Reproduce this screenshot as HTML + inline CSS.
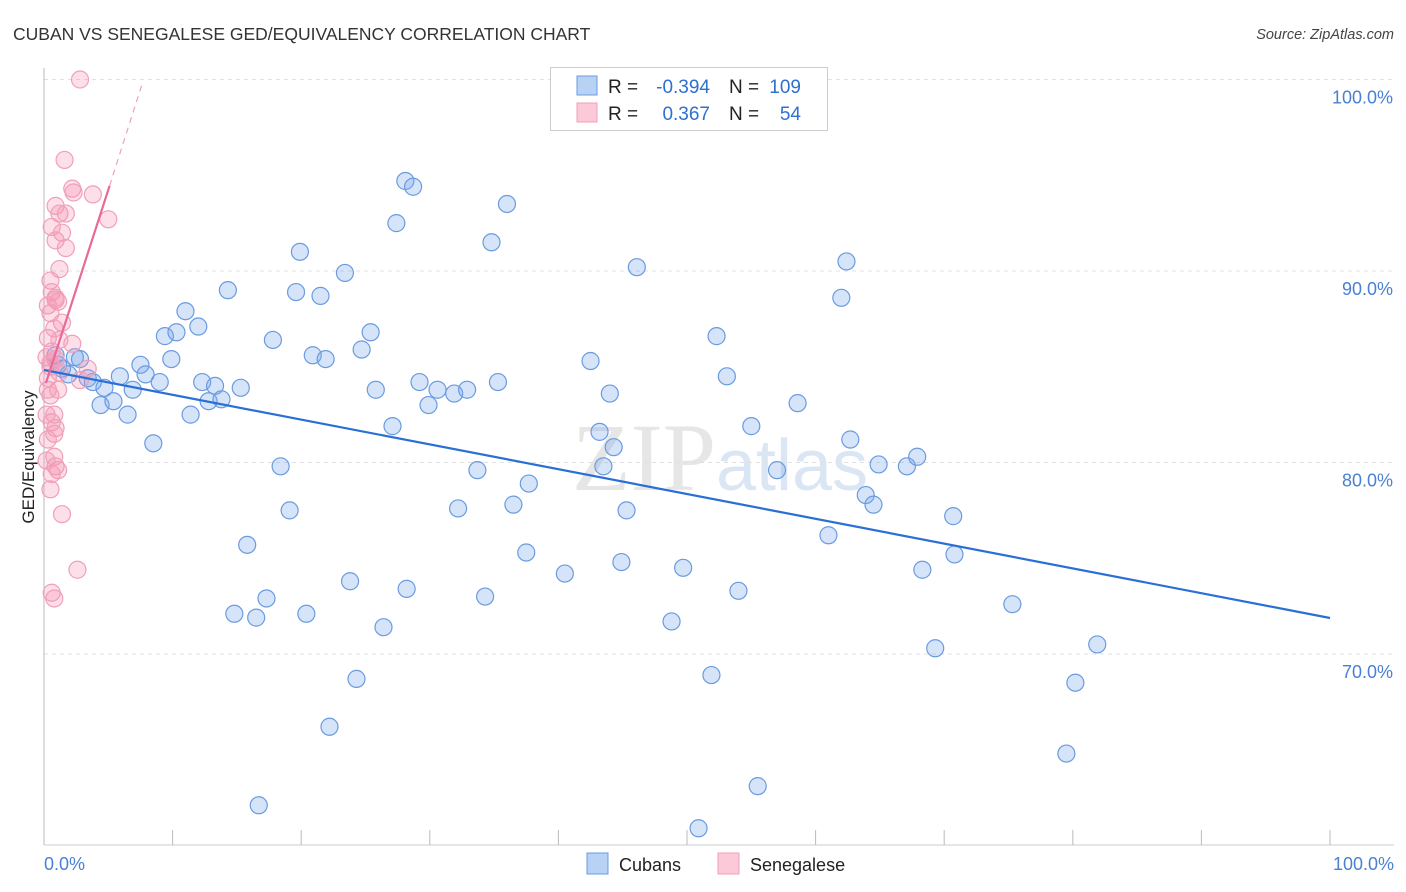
<!DOCTYPE html>
<html><head><meta charset="utf-8"><style>
body{margin:0;background:#fff;font-family:"Liberation Sans",sans-serif}
svg{display:block}
</style></head><body>
<svg id="chart" width="1406" height="892" xmlns="http://www.w3.org/2000/svg">
<text x="13" y="40" font-size="17.5" fill="#333" font-family="Liberation Sans, sans-serif">CUBAN VS SENEGALESE GED/EQUIVALENCY CORRELATION CHART</text>
<text x="1394" y="39" font-size="14.5" fill="#444" font-style="italic" text-anchor="end">Source: ZipAtlas.com</text>
<text x="720" y="490" font-size="96" fill="#e6e6e6" text-anchor="middle" font-family="Liberation Serif, serif">ZIP<tspan fill="#dbe6f5" font-family="Liberation Sans, sans-serif" font-size="72">atlas</tspan></text>
<g id="grid"></g>
<g id="axes"></g>
<g id="points"></g>
<g id="trends"></g>
<text transform="translate(34,457) rotate(-90)" font-size="17" fill="#222" text-anchor="middle">GED/Equivalency</text>
<text x="44" y="870" font-size="18" fill="#4a80d4">0.0%</text>
<text x="1394" y="870" font-size="18" fill="#4a80d4" text-anchor="end">100.0%</text>
<g font-size="19">
<rect x="550.5" y="67.5" width="277" height="63" fill="#fff" stroke="#ccc"/>
<rect x="577" y="76" width="20" height="19" fill="#b8d2f5" stroke="#6a9be0"/>
<rect x="577" y="103" width="20" height="19" fill="#fbc9d7" stroke="#f0a0b8"/>
<text x="608" y="93" fill="#222">R =</text>
<text x="710" y="93" fill="#2e6fd0" text-anchor="end">-0.394</text>
<text x="729" y="93" fill="#222">N =</text>
<text x="801" y="93" fill="#2e6fd0" text-anchor="end">109</text>
<text x="608" y="120" fill="#222">R =</text>
<text x="710" y="120" fill="#2e6fd0" text-anchor="end">0.367</text>
<text x="729" y="120" fill="#222">N =</text>
<text x="801" y="120" fill="#2e6fd0" text-anchor="end">54</text>
</g>
<g>
<rect x="587" y="853" width="21" height="21" fill="#b8d2f5" stroke="#6a9be0"/>
<text x="619" y="871" font-size="18" fill="#222">Cubans</text>
<rect x="718" y="853" width="21" height="21" fill="#fbc9d7" stroke="#f0a0b8"/>
<text x="750" y="871" font-size="18" fill="#222">Senegalese</text>
</g>
</svg>
<script>
const yTicks=[70,80,90,100];
const yTickLabels=["70.0%","80.0%","90.0%","100.0%"];
const xTicks=[10,20,30,40,50,60,70,80,90,100];
const cubanX=[0.9,1.1,1.4,2.4,2.8,1.9,3.4,3.8,4.4,4.7,5.4,5.9,6.5,6.9,7.5,7.9,8.5,9.0,9.4,9.9,10.3,11.0,11.4,12.0,12.3,12.8,13.3,13.8,14.3,15.3,15.8,14.8,16.5,17.3,17.8,18.4,19.1,19.6,19.9,20.4,20.9,21.5,21.9,22.2,23.4,23.8,24.3,24.7,25.4,25.8,26.4,27.1,27.4,28.1,28.2,28.7,29.2,29.9,30.6,31.9,32.2,32.9,33.7,34.3,34.8,35.3,36.0,36.5,37.5,37.7,40.5,42.5,43.2,43.5,44.0,44.3,44.9,45.3,46.1,48.8,49.7,50.9,51.9,52.3,53.1,54.0,55.0,57.0,58.6,61.0,62.0,62.4,62.7,63.9,64.5,64.9,67.1,67.9,68.3,69.3,70.7,70.8,75.3,80.2,79.5,81.9,55.5,16.7];
const cubanY=[85.6,85.1,84.9,85.5,85.4,84.6,84.4,84.2,83.0,83.9,83.2,84.5,82.5,83.8,85.1,84.6,81.0,84.2,86.6,85.4,86.8,87.9,82.5,87.1,84.2,83.2,84.0,83.3,89.0,83.9,75.7,72.1,71.9,72.9,86.4,79.8,77.5,88.9,91.0,72.1,85.6,88.7,85.4,66.2,89.9,73.8,68.7,85.9,86.8,83.8,71.4,81.9,92.5,94.7,73.4,94.4,84.2,83.0,83.8,83.6,77.6,83.8,79.6,73.0,91.5,84.2,93.5,77.8,75.3,78.9,74.2,85.3,81.6,79.8,83.6,80.8,74.8,77.5,90.2,71.7,74.5,60.9,68.9,86.6,84.5,73.3,81.9,79.6,83.1,76.2,88.6,90.5,81.2,78.3,77.8,79.9,79.8,80.3,74.4,70.3,77.2,75.2,72.6,68.5,64.8,70.5,63.1,62.1];
const senX=[2.8,1.6,2.2,2.3,3.8,5.0,0.9,1.2,1.7,0.6,1.4,0.9,1.7,1.2,0.5,0.6,0.9,0.3,1.1,0.5,1.4,0.8,0.3,2.2,0.6,0.2,0.9,0.5,1.2,3.4,2.8,0.3,1.1,0.5,0.8,0.6,0.9,0.8,0.3,0.8,0.9,1.1,0.6,0.5,1.4,2.6,0.6,0.8,0.2,0.3,0.5,0.9,1.2,0.2];
const senY=[100.0,95.8,94.3,94.1,94.0,92.7,93.4,93.0,93.0,92.3,92.0,91.6,91.2,90.1,89.5,88.9,88.5,88.2,88.4,87.8,87.3,87.0,86.5,86.2,85.8,85.5,85.4,85.0,84.7,84.9,84.3,83.8,83.8,83.5,82.5,82.1,81.8,81.5,81.2,80.3,79.8,79.6,79.4,78.6,77.3,74.4,73.2,72.9,82.5,84.4,85.2,88.6,86.4,80.1];
const cubanTrend=[[0,84.83],[100,71.88]];
const senTrend=[[0.15,84.15],[5.1,94.45]];
const senTrendDash=[[5.1,94.45],[7.6,99.7]];

const NS="http://www.w3.org/2000/svg";
const X0=44,X1=1330,Y100=79.5,PXPER=19.15;
function sx(v){return X0+(X1-X0)*v/100;}
function sy(v){return Y100+(100-v)*PXPER;}
function mk(tag,attrs,parent){const e=document.createElementNS(NS,tag);for(const k in attrs)e.setAttribute(k,attrs[k]);parent.appendChild(e);return e;}
const grid=document.getElementById('grid'),axes=document.getElementById('axes'),pts=document.getElementById('points'),tr=document.getElementById('trends');
yTicks.forEach((t,i)=>{
  const l=mk('line',{x1:X0,x2:1394,y1:sy(t),y2:sy(t),stroke:'#e0e0e0','stroke-dasharray':'4,4'},grid);
  
  
  const tx=mk('text',{x:1393,y:sy(t)+24,'font-size':18,fill:'#4a80d4','text-anchor':'end'},grid);
  tx.textContent=yTickLabels[i];
  
  
});
const ya=mk('line',{x1:X0,x2:X0,y1:68,y2:845,stroke:'#bbb'},axes);


const xa=mk('line',{x1:X0,x2:1394,y1:845,y2:845,stroke:'#ccc'},axes);


xTicks.forEach(t=>{
  const l=mk('line',{x1:sx(t),x2:sx(t),y1:830,y2:845,stroke:'#bbb'},axes);
  
  
});
cubanX.forEach((v,i)=>{
  const c=mk('circle',{cx:sx(v),cy:sy(cubanY[i]),r:8.5,fill:'rgba(120,165,235,0.3)',stroke:'#6a9be0','stroke-width':1.2},pts);
  
  
});
senX.forEach((v,i)=>{
  const c=mk('circle',{cx:sx(v),cy:sy(senY[i]),r:8.5,fill:'rgba(245,150,180,0.3)',stroke:'#f0a0b8','stroke-width':1.2},pts);
  
  
});
const l1=mk('line',{x1:sx(cubanTrend[0][0]),y1:sy(cubanTrend[0][1]),x2:sx(cubanTrend[1][0]),y2:sy(cubanTrend[1][1]),stroke:'#2a6fd6','stroke-width':2.2},tr);


const l2=mk('line',{x1:sx(senTrend[0][0]),y1:sy(senTrend[0][1]),x2:sx(senTrend[1][0]),y2:sy(senTrend[1][1]),stroke:'#e8699a','stroke-width':2.2},tr);


const l3=mk('line',{x1:sx(senTrendDash[0][0]),y1:sy(senTrendDash[0][1]),x2:sx(senTrendDash[1][0]),y2:sy(senTrendDash[1][1]),stroke:'#f0a0b8','stroke-width':1.2,'stroke-dasharray':'6,5'},tr);


</script>
</body></html>
